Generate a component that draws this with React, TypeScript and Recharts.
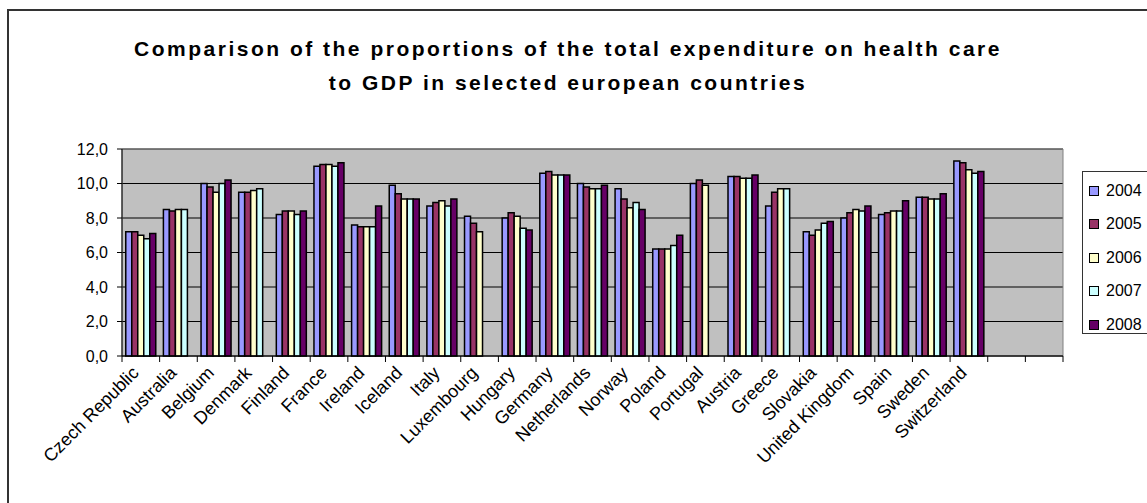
import React from "react";
import {
  BarChart,
  Bar,
  XAxis,
  YAxis,
  CartesianGrid,
  Legend,
  ReferenceArea,
} from "recharts";

const countries = [
  "Czech Republic", "Australia", "Belgium", "Denmark", "Finland", "France",
  "Ireland", "Iceland", "Italy", "Luxembourg", "Hungary", "Germany",
  "Netherlands", "Norway", "Poland", "Portugal", "Austria", "Greece",
  "Slovakia", "United Kingdom", "Spain", "Sweden", "Switzerland", "", "",
];

const y2004 = [7.2, 8.5, 10.0, 9.5, 8.2, 11.0, 7.6, 9.9, 8.7, 8.1, 8.0, 10.6, 10.0, 9.7, 6.2, 10.0, 10.4, 8.7, 7.2, 8.0, 8.2, 9.2, 11.3, null, null];
const y2005 = [7.2, 8.4, 9.8, 9.5, 8.4, 11.1, 7.5, 9.4, 8.9, 7.7, 8.3, 10.7, 9.8, 9.1, 6.2, 10.2, 10.4, 9.5, 7.0, 8.3, 8.3, 9.2, 11.2, null, null];
const y2006 = [7.0, 8.5, 9.5, 9.6, 8.4, 11.1, 7.5, 9.1, 9.0, 7.2, 8.1, 10.5, 9.7, 8.6, 6.2, 9.9, 10.3, 9.7, 7.3, 8.5, 8.4, 9.1, 10.8, null, null];
const y2007 = [6.8, 8.5, 10.0, 9.7, 8.2, 11.0, 7.5, 9.1, 8.7, null, 7.4, 10.5, 9.7, 8.9, 6.4, null, 10.3, 9.7, 7.7, 8.4, 8.4, 9.1, 10.6, null, null];
const y2008 = [7.1, null, 10.2, null, 8.4, 11.2, 8.7, 9.1, 9.1, null, 7.3, 10.5, 9.9, 8.5, 7.0, null, 10.5, null, 7.8, 8.7, 9.0, 9.4, 10.7, null, null];

const years = ["2004", "2005", "2006", "2007", "2008"];
const colors = ["#9999FF", "#993366", "#FFFFCC", "#CCFFFF", "#660066"];
const yTicks = [0, 2, 4, 6, 8, 10, 12];

const data = countries.map((country, i) => ({
  country,
  "2004": y2004[i],
  "2005": y2005[i],
  "2006": y2006[i],
  "2007": y2007[i],
  "2008": y2008[i],
}));

const W = 1147;
const H = 503;
const margin = { top: 149, right: 84, bottom: 0, left: 0 };
const yAxisWidth = 122;
const xAxisHeight = H - 356;
const plotWidth = W - margin.right - yAxisWidth;
const band = plotWidth / countries.length;
const font = "'Liberation Sans', Arial, sans-serif";

const XTick = (props: any) => {
  const { x, y, payload, index } = props;
  const left = x - band / 2;
  const ax = x - 1;
  const ay = y + 18;
  return (
    <g>
      <line x1={left} y1={y} x2={left} y2={y + 6} stroke="#000" />
      {index === countries.length - 1 && (
        <line x1={x + band / 2} y1={y} x2={x + band / 2} y2={y + 6} stroke="#000" />
      )}
      <text
        x={ax}
        y={ay}
        transform={`rotate(-45, ${ax}, ${ay})`}
        textAnchor="end"
        fontSize={18}
        fontFamily={font}
        fill="#000"
      >
        {payload.value}
      </text>
    </g>
  );
};

const LegendBox = () => (
  <div
    style={{
      width: 90,
      height: 163,
      border: "1px solid #333",
      background: "#fff",
      boxSizing: "border-box",
      paddingTop: 2,
    }}
  >
    {years.map((y, i) => (
      <div key={y} style={{ display: "flex", alignItems: "center", height: 33.5, fontFamily: font, fontSize: 16 }}>
        <span
          style={{
            display: "inline-block",
            width: 8,
            height: 8,
            marginLeft: 6,
            marginRight: 7,
            background: colors[i],
            border: "1px solid #000",
          }}
        />
        {y}
      </div>
    ))}
  </div>
);

export default function App() {
  return (
    <div style={{ position: "absolute", left: 0, top: 0, width: W, height: H, background: "#fff", overflow: "hidden" }}>
      <div
        style={{
          position: "absolute",
          left: 7,
          top: 9,
          width: W,
          height: H,
          border: "2px solid #333",
          boxSizing: "border-box",
        }}
      />
      <div
        style={{
          position: "absolute",
          left: 0,
          top: 32,
          width: 1136,
          textAlign: "center",
          fontFamily: font,
          fontWeight: "bold",
          fontSize: 21,
          letterSpacing: 2.5,
          lineHeight: "34px",
        }}
      >
        <div>Comparison of the proportions of the total expenditure on health care</div>
        <div>to GDP in selected european countries</div>
      </div>
      <BarChart
        width={W}
        height={H}
        data={data}
        margin={margin}
        barCategoryGap="10%"
        barGap={0}
        style={{ position: "absolute", left: 0, top: 0 }}
      >
        <CartesianGrid vertical={false} stroke="#000" fill="#C0C0C0" fillOpacity={1} />
        <ReferenceArea y1={0} y2={12} fill="none" stroke="#808080" strokeWidth={1} />
        <XAxis
          dataKey="country"
          interval={0}
          height={xAxisHeight}
          tickSize={0}
          tickMargin={0}
          tickLine={false}
          stroke="#000"
          tick={<XTick />}
        />
        <YAxis
          width={yAxisWidth}
          domain={[0, 12]}
          ticks={yTicks}
          interval={0}
          tickSize={5}
          tickMargin={9}
          stroke="#000"
          tick={{ fill: "#000", fontSize: 16, fontFamily: font }}
          tickFormatter={(v: number) => v.toFixed(1).replace(".", ",")}
        />
        <Legend
          layout="horizontal"
          verticalAlign="middle"
          align="center"
          content={<LegendBox />}
          wrapperStyle={{ position: "absolute", left: 1082, top: 171, width: 90 }}
        />
        {years.map((y, i) => (
          <Bar key={y} dataKey={y} fill={colors[i]} stroke="#000" strokeWidth={1.5} isAnimationActive={false} />
        ))}
      </BarChart>
    </div>
  );
}
